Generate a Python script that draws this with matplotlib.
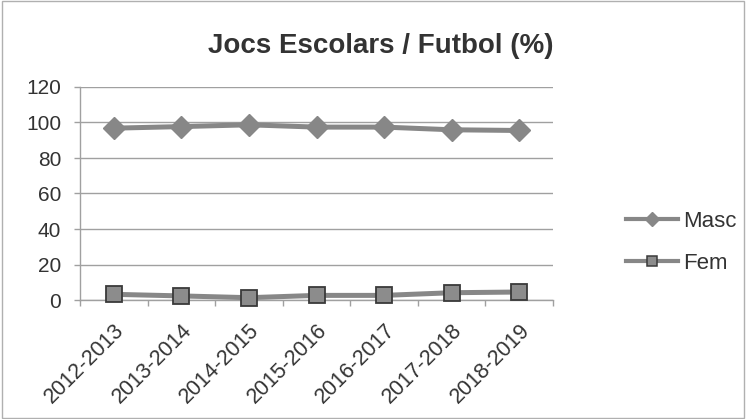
import matplotlib.pyplot as plt
import matplotlib.patches as mpatches
from matplotlib.lines import Line2D

plt.rcParams['font.family'] = ['Liberation Sans', 'DejaVu Sans']
plt.rcParams['text.color'] = '#333333'
plt.rcParams['xtick.labelcolor'] = '#333333'
plt.rcParams['ytick.labelcolor'] = '#333333'

# dades
temporades = ["2012-2013", "2013-2014", "2014-2015", "2015-2016",
              "2016-2017", "2017-2018", "2018-2019"]
masc = [96.8, 97.7, 98.7, 97.4, 97.4, 95.9, 95.5]
fem = [3.2, 2.3, 1.3, 2.6, 2.6, 4.1, 4.5]
yticks = [0, 20, 40, 60, 80, 100, 120]

fig = plt.figure(figsize=(7.46, 4.19), dpi=100)
ax = fig.add_axes([80/746, 1-300/419, (553-80)/746, (300-87)/419])

x = range(len(temporades))
ax.plot(x, masc, color="#878787", linewidth=3.6, marker="D", markersize=11,
        markerfacecolor="#878787", markeredgecolor="#878787", clip_on=False)
ax.plot(x, fem, color="#878787", linewidth=3.6, marker="s", markersize=12,
        markerfacecolor="#8c8c8c", markeredgecolor="#3a3a3a", markeredgewidth=1.3,
        clip_on=False, zorder=3)

ax.set_xlim(-0.5, len(temporades) - 0.5)
ax.set_ylim(0, 120)
ax.set_yticks(yticks)
ax.set_xticks(x)
ax.set_xticklabels(temporades, rotation=45, ha="right", rotation_mode="anchor", fontsize=15.5)
ax.tick_params(axis="x", length=0, pad=14)
ax.set_xticks([i - 0.5 for i in range(len(temporades) + 1)], minor=True)
ax.tick_params(axis="x", which="minor", length=4.5, color="#a0a0a0", width=1)
ax.tick_params(axis="y", labelsize=15, length=4.5, color="#a0a0a0", width=1, pad=9)
ax.grid(axis="y", color="#a0a0a0", linewidth=1)
ax.set_axisbelow(True)
for s in ["top", "right"]:
    ax.spines[s].set_visible(False)
for s in ["left", "bottom"]:
    ax.spines[s].set_color("#a0a0a0")
    ax.spines[s].set_linewidth(1)

fig.text(381/746, 1-46/419, "Jocs Escolars / Futbol (%)", ha="center", va="center",
         fontsize=20, fontweight="bold")

handles = [
    Line2D([], [], color="#878787", linewidth=3, marker="D", markersize=7,
           markerfacecolor="#878787", markeredgecolor="#878787"),
    Line2D([], [], color="#878787", linewidth=3, marker="s", markersize=7.5,
           markerfacecolor="#8c8c8c", markeredgecolor="#3a3a3a", markeredgewidth=1.1),
]
fig.legend(handles, ["Masc", "Fem"], loc="center left",
           bbox_to_anchor=(626/746, 1-242.5/419), bbox_transform=fig.transFigure,
           frameon=False, fontsize=16, handlelength=2.34, handletextpad=0.22,
           labelspacing=0.95, borderaxespad=0, borderpad=0)

fig.patches.append(mpatches.Rectangle((0.003, 0.003), 0.994, 0.994, transform=fig.transFigure,
                                      fill=False, edgecolor="#b0b0b0", linewidth=1))

fig.savefig("out.png", dpi=100)
